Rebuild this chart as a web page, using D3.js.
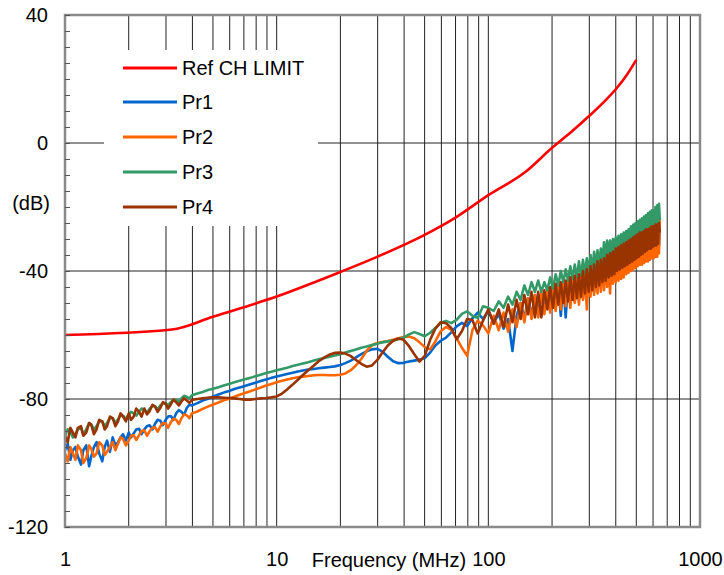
<!DOCTYPE html>
<html><head><meta charset="utf-8">
<script src="https://cdn.jsdelivr.net/npm/d3@7"></script>
<style>body{margin:0;background:#fff}svg{display:block;font-family:"Liberation Sans",Arial,sans-serif}</style>
</head><body><svg id="c" width="724" height="575"></svg>
<script>
// ---- data ----
const freqMHz = [1.00,1.06,1.12,1.19,1.26,1.33,1.41,1.50,1.58,1.68,1.78,1.88,2.00,2.11,2.24,2.37,2.51,2.66,2.82,2.99,3.16,3.35,3.55,3.76,3.98,4.22,4.47,4.73,5.01,5.31,5.62,5.96,6.31,6.68,7.08,7.50,7.94,8.41,8.91,9.44,10.0,10.6,11.2,11.9,12.6,13.3,14.1,15.0,15.8,16.8,17.8,18.8,20.0,21.1,22.4,23.7,25.1,26.6,28.2,29.9,31.6,33.5,35.5,37.6,39.8,42.2,44.7,47.3,50.1,53.1,56.2,59.6,63.1,66.8,70.8,75.0,79.4,84.1,89.1,94.4,
100,106,112,118,124,130,136,142,148,154,160,166,172,178,184,190,196,202,208,214,220,226,232,238,244,250,256,262,268,274,280,286,292,298,304,310,316,322,328,334,340,346,352,358,364,370,376,382,388,394,400,406,412,418,424,430,436,442,448,454,460,466,472,478,484,490,496,502,508,514,520,526,532,538,544,550,556,562,568,574,580,586,592,598,604,610,616,622,628,634,640,646];

const pr1 = [-96,-99,-95,-100.5,-94.5,-98,-93.5,-99.5,-93,-92,-93.5,-91,-90.5,-90.8,-89.3,-89.5,-88.2,-87.8,-86.8,-86.5,-85.3,-84.5,-84,-82.8,-82,-81.3,-80.5,-79.9,-79.2,-78.6,-78,-77.5,-76.9,-76.4,-75.9,-75.4,-74.9,-74.4,-73.9,-73.4,-73,-72.6,-72.2,-71.8,-71.4,-71.1,-70.8,-70.6,-70.4,-70.2,-70,-69.8,-69.4,-68.8,-68,-67,-66,-65.1,-64.5,-64.3,-65.2,-66.8,-68.2,-68.8,-68.7,-68.3,-68,-67.7,-67.2,-65.5,-63.3,-61.8,-60.8,-59.2,-57.3,-56.2,-57.2,-54.8,-53,-55,
-52.5,-56,-53.5,-58,-55,-65,-54,-50,-55,-48.5,-54,-47.5,-53.5,-47,-52.5,-46,-52,-45.5,-51.5,-44.5,-54,-44,-54.5,-43,-50,-42.5,-49.5,-42,-49,-41,-48.5,-40.5,-48,-40,-47,-39,-46.5,-38.5,-46,-38,-45,-37,-44.5,-36.5,-44,-36,-43,-35,-42.5,-34.5,-42,-34,-41.5,-33.5,-41,-33,-40,-32.5,-39.5,-32,-39,-31.5,-38.5,-31,-38,-30.5,-37.5,-30,-37,-29.5,-36.5,-29,-36,-29,-35.5,-28.5,-35,-28,-34.5,-28,-34,-27.5,-33.5,-27,-33.5,-27,-33,-26.5,-33,-26.5,-32,-27];

const pr2 = [-97,-95,-99,-96,-98.5,-95.5,-97,-94.5,-96.5,-93.5,-94,-92.5,-93,-91.3,-91.3,-89.8,-90.1,-88.8,-88.6,-87.6,-87.3,-86.5,-86,-85.1,-84.5,-83.9,-83.1,-82.4,-81.7,-81.1,-80.4,-79.9,-79.3,-78.7,-78.1,-77.6,-77,-76.4,-75.8,-75.3,-74.8,-74.3,-73.9,-73.5,-73.2,-73,-72.8,-72.6,-72.5,-72.5,-72.6,-72.6,-72.4,-72,-71,-69.5,-67.5,-65,-63.2,-62.5,-62.2,-61.9,-61.5,-61,-60.6,-60.5,-61,-62.3,-63.8,-64.5,-62,-58.8,-57.5,-58.3,-61,-64,-66.5,-58.5,-55.5,-57,
-59.5,-54,-58.5,-53,-59,-52,-57.5,-50,-56,-48.5,-55,-47.5,-54.5,-47,-53.5,-46,-53,-45,-52.5,-44.5,-52,-44,-51,-43,-51.5,-42.5,-50,-42,-50.5,-41.5,-49,-41,-52,-40,-48,-39.5,-47.5,-39,-47,-38,-46.5,-37.5,-46,-37,-45,-36,-47,-35.5,-44,-35,-43.5,-34,-43,-33.5,-42.5,-33,-42,-32.5,-41,-32,-40.5,-31.5,-40,-31,-39.5,-30.5,-39,-30,-38.5,-29.5,-38,-29,-38,-28.5,-37.5,-28,-37,-27.5,-37,-27,-36.5,-26.5,-36,-26,-36,-25.5,-35.5,-25,-35.5,-24.5,-34.5,-23.5];

const pr3 = [-91.5,-90,-91,-89,-89.5,-88,-88.5,-87,-87.5,-86,-86.3,-85.2,-85,-84.5,-84,-83.3,-83,-82.3,-82,-81.3,-81,-80.2,-79.8,-79.3,-78.8,-78.3,-77.8,-77.2,-76.8,-76.3,-75.8,-75.3,-74.8,-74.3,-73.8,-73.4,-72.9,-72.4,-71.9,-71.5,-71,-70.6,-70.2,-69.7,-69.3,-68.9,-68.5,-68,-67.6,-67.2,-66.8,-66.4,-66,-65.5,-65,-64.5,-64,-63.6,-63.1,-62.7,-62.3,-62,-61.7,-61.3,-60.8,-59.8,-59.1,-59.7,-60.4,-59.3,-57.8,-56.2,-55.6,-56.3,-55.3,-53.4,-52.6,-54,-54.7,-51,
-51.5,-52.5,-49.5,-51.5,-48,-50.5,-46.5,-49,-44.5,-47.5,-43.5,-46.5,-43,-46.5,-43.5,-46,-42,-45.5,-41,-44.5,-40,-43.5,-39.5,-43,-38.5,-42.5,-38,-42,-37,-41.5,-36.5,-41,-36,-40.5,-35,-40,-34,-39,-33.5,-38.5,-33,-37.5,-31,-37,-30.5,-36,-30.5,-35.5,-30,-35,-29.5,-34.5,-29,-34,-28.5,-33.5,-28,-33,-27.5,-32.5,-27,-32,-26,-31.5,-25.5,-31,-25,-30.5,-24.5,-30,-24,-30,-23.5,-29.5,-23,-29,-22.5,-28.5,-22,-28,-21.5,-28,-21,-27.5,-21,-27,-20,-27,-19.5,-26.5,-19,-24];

const pr4 = [-91.5,-89,-92,-88.5,-90.5,-88,-89.5,-87,-88.5,-86,-87,-85.5,-84.5,-85.5,-84,-83,-83.8,-82.3,-82.8,-81.5,-81.7,-81,-80.8,-80.5,-80.3,-80,-79.8,-79.6,-79.5,-79.5,-79.6,-79.7,-79.8,-80,-80.2,-80.2,-80,-79.8,-79.7,-79.5,-79.2,-78.3,-77,-75.5,-74,-72.5,-71,-69.5,-68.2,-67,-66.1,-65.6,-65.5,-65.8,-66.6,-67.8,-69,-69.9,-69.5,-67.8,-65.5,-63.3,-61.8,-61.1,-61.5,-63.5,-66,-68.3,-66.5,-61.5,-58,-56,-56.3,-57.8,-61.3,-58.8,-55,-55.3,-59.5,-55.5,
-52,-56.5,-52,-57.5,-50.5,-56,-49,-55,-47.5,-53.5,-46.5,-54.5,-46.5,-54.5,-46,-52,-45,-51.5,-44,-50.5,-43.5,-50,-43,-49.5,-42,-49,-41.5,-48.5,-41,-48,-40,-47,-39.5,-46.5,-38.5,-46,-38,-45,-37,-44.5,-36.5,-43.5,-36,-43,-35,-42,-34.5,-41.5,-34,-41,-33,-40,-32.5,-39.5,-32,-39,-31.5,-38.5,-31,-38,-30.5,-37.5,-30,-37,-29.5,-36.5,-29,-36,-28.5,-35.5,-28,-35,-28,-34.5,-27.5,-34,-27,-33.5,-27,-33,-26.5,-33,-26,-32.5,-26,-32,-25.5,-32,-25.5,-31.5,-25,-28];

// extra low-frequency samples (noise between the grid points above)
const freqNoise = [1.03,1.09,1.15,1.22,1.30,1.37,1.45,1.54,1.63,1.73,1.83,1.94,2.05,2.17,2.30,2.44,2.59,2.74,2.90,3.07,3.25,3.45,3.65,3.87];
const pr1Noise = [-94,-96,-98,-96,-101,-95,-97,-95,-96.5,-94.5,-92,-93,-92,-89.5,-91,-88.5,-89.5,-86.5,-88.2,-85.5,-86.5,-83.5,-85,-81.8];
const pr2Noise = [-99.5,-97,-94.5,-100,-94.5,-98,-93.5,-97.5,-95,-96,-92,-94.5,-91.5,-92.8,-90,-91.5,-89,-90.2,-87.5,-89,-86.2,-87.8,-84.8,-86];
const pr3Noise = [-89.5,-92,-89.5,-91,-87.5,-89.5,-87,-88.5,-86,-87.5,-85,-86.3,-84,-85.2,-83,-84.3,-82.2,-83.2,-81.3,-82,-80.3,-81,-79,-79.8];
const pr4Noise = [-93.5,-90.5,-89,-91.5,-87.5,-91,-86.5,-89.5,-85.5,-88.5,-84.5,-87,-86.5,-83,-85.5,-84.8,-81.8,-84,-81,-83,-80.2,-82,-79.8,-81.2];

const limitFreq = [1,3.2,5,7.5,10,15,20,30,50,70,100,150,200,250,300,350,400,450,500];
const limitDb = [-60,-58.3,-54.3,-50.7,-48,-43.6,-40.3,-35.5,-28.7,-23.3,-16.3,-9,-1.5,3.8,8.5,12.7,16.8,21.2,26];

const seriesNames = ["Ref CH LIMIT","Pr1","Pr2","Pr3","Pr4"];
const seriesColors = ["#ff0000","#0066cc","#ff6600","#339966","#993300"];
const yLabelTicks = [40,0,-40,-80,-120];
const yGridLines = [0,-40,-80];
const xLabelTicks = [1,10,100,1000];

// ---- chart ----
const svg = d3.select("#c");
const x = d3.scaleLog().domain([1,1000]).range([65,700]);
const y = d3.scaleLinear().domain([-120,40]).range([527,15]);

// grid
const grid = svg.append("g");
grid.selectAll("line.v").data(x.ticks().filter(d => d > 1 && d < 1000)).join("line")
  .attr("x1", d => x(d)).attr("x2", d => x(d)).attr("y1", y(40)).attr("y2", y(-120))
  .attr("stroke", "#222").attr("stroke-width", 1);
grid.selectAll("line.h").data(yGridLines).join("line")
  .attr("x1", x(1)).attr("x2", x(1000)).attr("y1", d => y(d)).attr("y2", d => y(d))
  .attr("stroke", "#222").attr("stroke-width", 1);

// legend box (covers grid)
svg.append("rect").attr("x",104).attr("y",50).attr("width",214).attr("height",176).attr("fill","#fff");

// series
const line = d3.line().x(d => x(d[0])).y(d => y(d[1]));
const traces = [[pr1, pr1Noise], [pr2, pr2Noise], [pr3, pr3Noise], [pr4, pr4Noise]];
traces.forEach(([vals, noise], i) => {
  const pts = freqMHz.map((f, j) => [f, vals[j]])
    .concat(freqNoise.map((f, j) => [f, noise[j]]))
    .sort((a, b) => a[0] - b[0]);
  svg.append("path").datum(pts).attr("d", line).attr("fill","none")
    .attr("stroke", seriesColors[i+1]).attr("stroke-width", 2.6).attr("stroke-linejoin","round");
});
const limitLine = d3.line().x(d => x(d[0])).y(d => y(d[1])).curve(d3.curveMonotoneX);
svg.append("path").datum(limitFreq.map((f,j)=>[f,limitDb[j]])).attr("d", limitLine)
  .attr("fill","none").attr("stroke", seriesColors[0]).attr("stroke-width", 2.6);

// frame
svg.append("rect").attr("x",65).attr("y",15).attr("width",635).attr("height",512)
  .attr("fill","none").attr("stroke","#8a8a8a").attr("stroke-width",2.5);

// axes
const yAxis = d3.axisLeft(y).tickValues(d3.range(-120, 41, 5))
  .tickSizeInner(-5).tickSizeOuter(0).tickPadding(17)
  .tickFormat(d => yLabelTicks.includes(d) ? String(d) : "");
const gy = svg.append("g").attr("transform","translate(65,0)").call(yAxis);
gy.select(".domain").remove();
gy.selectAll("line").attr("stroke","#555");
gy.selectAll("text").attr("font-size",20).attr("fill","#000").attr("font-family","Liberation Sans, Arial, sans-serif");

const xAxis = d3.axisBottom(x).tickValues(xLabelTicks).tickSize(0).tickPadding(25).tickFormat(d3.format("d"));
const gx = svg.append("g").attr("transform","translate(0,527)").call(xAxis);
gx.select(".domain").remove();
gx.selectAll("text").attr("font-size",20).attr("fill","#000").attr("font-family","Liberation Sans, Arial, sans-serif");

svg.append("text").attr("x",50).attr("y",203).attr("dy","0.35em").attr("text-anchor","end")
  .attr("font-size",20).text("(dB)");
svg.append("text").attr("x",389).attr("y",567).attr("text-anchor","middle")
  .attr("font-size",20).text("Frequency (MHz)");

// legend
const legY = [68,102,137,172,207];
const leg = svg.append("g");
seriesNames.forEach((n, i) => {
  leg.append("line").attr("x1",123).attr("x2",177).attr("y1",legY[i]).attr("y2",legY[i])
    .attr("stroke", seriesColors[i]).attr("stroke-width",3);
  leg.append("text").attr("x",182).attr("y",legY[i]).attr("dy","0.35em").attr("font-size",20).text(n);
});
</script></body></html>
